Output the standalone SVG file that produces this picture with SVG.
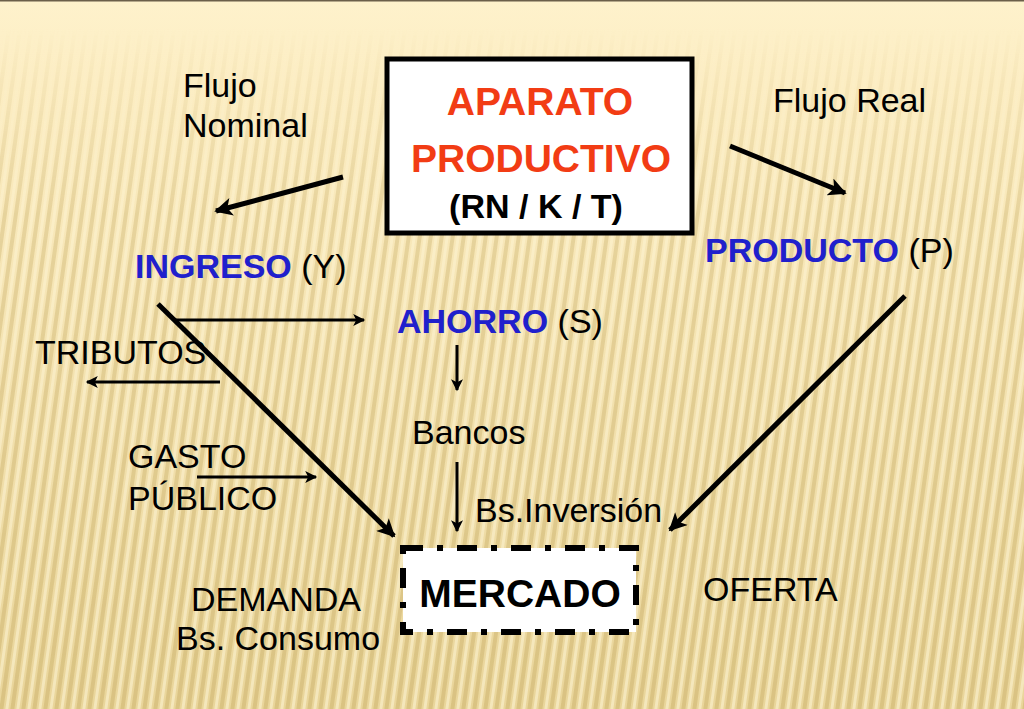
<svg xmlns="http://www.w3.org/2000/svg" width="1024" height="709" viewBox="0 0 1024 709">
<defs>
<linearGradient id="bg" x1="0" y1="0" x2="0" y2="1">
<stop offset="0" stop-color="#fef2cc"/>
<stop offset="0.12" stop-color="#fcedc2"/>
<stop offset="1" stop-color="#e9d59a"/>
</linearGradient>
<linearGradient id="fade" x1="0" y1="0" x2="0" y2="1">
<stop offset="0.04" stop-color="#fff" stop-opacity="0"/>
<stop offset="0.3" stop-color="#fff" stop-opacity="0.8"/>
<stop offset="1" stop-color="#fff" stop-opacity="1"/>
</linearGradient>
<mask id="m"><rect width="1024" height="709" fill="url(#fade)"/></mask>
<pattern id="stripes" width="11" height="40" patternUnits="userSpaceOnUse" patternTransform="skewX(-8)">
<rect x="0" y="0" width="4" height="40" fill="#c4a760" opacity="0.4"/>
<rect x="6" y="0" width="3" height="40" fill="#fff8dc" opacity="0.5"/>
</pattern>
<marker id="ah" viewBox="0 0 10 10" refX="9" refY="5" markerWidth="22" markerHeight="18" markerUnits="userSpaceOnUse" orient="auto">
<path d="M0,0 L10,5 L0,10 L2.5,5 Z" fill="#000"/>
</marker>
<marker id="ahs" viewBox="0 0 10 10" refX="9" refY="5" markerWidth="16" markerHeight="12" markerUnits="userSpaceOnUse" orient="auto">
<path d="M0,0 L10,5 L0,10 L2.5,5 Z" fill="#000"/>
</marker>
<style>
.t{font-family:"Liberation Sans",Arial,sans-serif;font-size:34px;fill:#000}
.b{font-weight:bold}
.blue{fill:#2020cc;font-weight:bold}
.red{fill:#f23c14;font-weight:bold;font-size:39px}
.big{font-size:39px}
.thick{stroke:#000;stroke-width:5;fill:none;marker-end:url(#ah)}
.thin{stroke:#000;stroke-width:3;fill:none;marker-end:url(#ahs)}
</style>
</defs>
<rect width="1024" height="709" fill="url(#bg)"/>
<rect width="1024" height="709" fill="url(#stripes)" mask="url(#m)"/>
<rect x="0" y="0" width="1024" height="1.5" fill="#6b5f4a"/>

<g id="aparato">
<rect x="387" y="59" width="305" height="174" fill="#fff" stroke="#000" stroke-width="5"/>
<text class="t red" x="540" y="115" text-anchor="middle">APARATO</text>
<text class="t red" x="541" y="172" text-anchor="middle">PRODUCTIVO</text>
<text class="t b" x="536" y="218" text-anchor="middle">(RN / K / T)</text>
</g>

<g id="mercado">
<rect x="403" y="548" width="233" height="84" fill="#fff" stroke="#000" stroke-width="6" stroke-dasharray="20,14,6,14"/>
<text class="t b big" x="520" y="607" text-anchor="middle">MERCADO</text>
</g>

<g id="labels">
<text class="t" x="183" y="97">Flujo</text>
<text class="t" x="183" y="137">Nominal</text>
<text class="t" x="773" y="112">Flujo Real</text>
<text class="t" x="135" y="278"><tspan class="blue">INGRESO</tspan> (Y)</text>
<text class="t" x="705" y="262"><tspan class="blue">PRODUCTO</tspan> (P)</text>
<text class="t" x="397" y="333"><tspan class="blue">AHORRO</tspan> (S)</text>
<text class="t" x="35" y="364">TRIBUTOS</text>
<text class="t" x="412" y="444">Bancos</text>
<text class="t" x="128" y="468">GASTO</text>
<text class="t" x="128" y="510">PÚBLICO</text>
<text class="t" x="475" y="522">Bs.Inversión</text>
<text class="t" x="191" y="611">DEMANDA</text>
<text class="t" x="176" y="650">Bs. Consumo</text>
<text class="t" x="703" y="601">OFERTA</text>
</g>

<g id="connectors">
<line class="thick" x1="343" y1="177" x2="216" y2="211"/>
<line class="thick" x1="730" y1="146" x2="845" y2="193"/>
<line class="thick" x1="158" y1="304" x2="394" y2="536"/>
<line class="thick" x1="905" y1="296" x2="670" y2="530"/>
<line class="thin" x1="175" y1="320" x2="364" y2="320"/>
<line class="thin" x1="220" y1="382" x2="87" y2="382"/>
<line class="thin" x1="197" y1="477" x2="316" y2="477"/>
<line class="thin" x1="457" y1="345" x2="457" y2="390"/>
<line class="thin" x1="457" y1="462" x2="457" y2="531"/>
</g>
</svg>
